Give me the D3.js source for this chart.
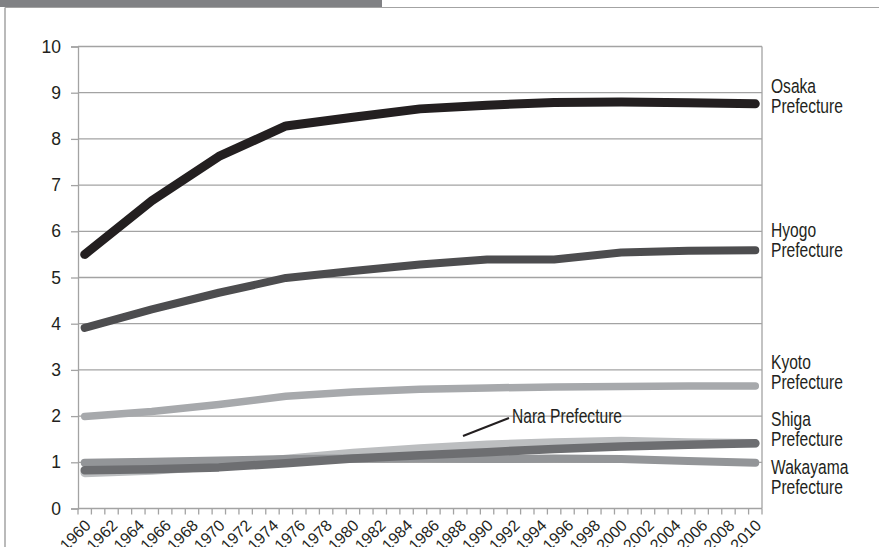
<!DOCTYPE html>
<html>
<head>
<meta charset="utf-8">
<script src="https://cdn.jsdelivr.net/npm/d3@7/dist/d3.min.js"></script>
<style>
  html, body { margin: 0; padding: 0; background: #fff; }
  svg { display: block; }
</style>
</head>
<body>
<svg id="chart" width="879" height="547"></svg>
<script>
// Census years (every 5 years) and population in millions
const censusYears = [1960, 1965, 1970, 1975, 1980, 1985, 1990, 1995, 2000, 2005, 2010];
const osaka    = [5.50, 6.66, 7.62, 8.28, 8.47, 8.65, 8.73, 8.79, 8.80, 8.78, 8.76];
const hyogo    = [3.91, 4.31, 4.67, 4.99, 5.14, 5.28, 5.39, 5.39, 5.54, 5.58, 5.59];
const kyoto    = [1.99, 2.10, 2.25, 2.43, 2.52, 2.58, 2.61, 2.63, 2.64, 2.65, 2.65];
const nara     = [0.77, 0.82, 0.92, 1.07, 1.20, 1.30, 1.38, 1.43, 1.46, 1.43, 1.41];
const wakayama = [0.99, 1.01, 1.04, 1.07, 1.08, 1.09, 1.07, 1.08, 1.07, 1.03, 0.99];
const shiga    = [0.83, 0.85, 0.89, 0.98, 1.08, 1.15, 1.22, 1.29, 1.34, 1.38, 1.41];

// Category axis: one slot per year, labelled every second year
const axisYears = d3.range(1960, 2011);
const xTickLabels = ["1960","1962","1964","1966","1968","1970","1972","1974","1976","1978","1980","1982","1984","1986","1988","1990","1992","1994","1996","1998","2000","2002","2004","2006","2008","2010"];
const yTicks = [0, 1, 2, 3, 4, 5, 6, 7, 8, 9, 10];

const svg = d3.select("#chart");
const axisFont = "'Liberation Sans', Arial, sans-serif";
const ink = "#231f20";
const gridColor = "#a3a3a3";
const narrow = 0.8;   // horizontal squeeze for the condensed label face

// Page frame and header strip
svg.append("rect").attr("x", 0).attr("y", 0).attr("width", 382).attr("height", 7).attr("fill", "#808184");
svg.append("line").attr("x1", 5).attr("x2", 879).attr("y1", 7.5).attr("y2", 7.5)
  .attr("stroke", gridColor).attr("stroke-width", 1.2);
svg.append("line").attr("x1", 5).attr("x2", 5).attr("y1", 7.5).attr("y2", 547)
  .attr("stroke", gridColor).attr("stroke-width", 1.5);

const plotLeft = 78, plotRight = 762, plotTop = 46.5, plotBottom = 508.5;

const x = d3.scaleBand().domain(axisYears).range([plotLeft, plotRight]).padding(0);
const xc = yr => x(yr) + x.bandwidth() / 2;
const y = d3.scaleLinear().domain([0, 10]).range([plotBottom, plotTop]);

// Horizontal gridlines
svg.append("g").selectAll("line").data(yTicks.filter(v => v > 0)).join("line")
  .attr("x1", plotLeft).attr("x2", plotRight)
  .attr("y1", d => y(d)).attr("y2", d => y(d))
  .attr("stroke", gridColor).attr("stroke-width", 1.3);

// Right border of the plot area
svg.append("line").attr("x1", plotRight).attr("x2", plotRight)
  .attr("y1", plotTop).attr("y2", plotBottom)
  .attr("stroke", gridColor).attr("stroke-width", 1.3);

// Y axis
const yAxis = d3.axisLeft(y).tickValues(yTicks).tickSize(7).tickPadding(10).tickFormat(d3.format("d"));
const gy = svg.append("g").attr("transform", `translate(${plotLeft},0)`).call(yAxis);
gy.attr("font-family", null);
gy.select(".domain").attr("stroke", gridColor).attr("stroke-width", 1.3);
gy.selectAll(".tick line").attr("stroke", gridColor).attr("stroke-width", 1.3);
gy.selectAll(".tick text").attr("fill", ink).style("font-family", axisFont).style("font-size", "17.5px");

// X axis: baseline, tick marks at slot boundaries, rotated labels at slot centres
svg.append("line").attr("x1", plotLeft).attr("x2", plotRight)
  .attr("y1", plotBottom).attr("y2", plotBottom)
  .attr("stroke", gridColor).attr("stroke-width", 1.3);
const boundaries = axisYears.map(yr => x(yr)).concat([plotRight]);
svg.append("g").selectAll("line").data(boundaries).join("line")
  .attr("x1", d => d).attr("x2", d => d)
  .attr("y1", plotBottom).attr("y2", plotBottom + 6)
  .attr("stroke", gridColor).attr("stroke-width", 1.3);
svg.append("g").selectAll("text").data(xTickLabels).join("text")
  .attr("transform", d => `translate(${xc(+d) + 3},${plotBottom + 14}) rotate(-45)`)
  .attr("text-anchor", "end")
  .attr("dy", "0.35em")
  .attr("fill", ink)
  .style("font-family", axisFont)
  .style("font-size", "16px")
  .text(d => d);

// Series lines
const series = [
  { name: "Osaka",    values: osaka,    color: "#231f20", width: 9 },
  { name: "Hyogo",    values: hyogo,    color: "#4d4d4f", width: 8 },
  { name: "Kyoto",    values: kyoto,    color: "#a7a9ac", width: 7.5 },
  { name: "Nara",     values: nara,     color: "#bcbec0", width: 8.5 },
  { name: "Wakayama", values: wakayama, color: "#939598", width: 8 },
  { name: "Shiga",    values: shiga,    color: "#6d6e71", width: 8.5 }
];
const line = d3.line().x((d, i) => xc(censusYears[i])).y(d => y(d));
svg.append("g").selectAll("path").data(series).join("path")
  .attr("d", d => line(d.values))
  .attr("fill", "none")
  .attr("stroke", d => d.color)
  .attr("stroke-width", d => d.width)
  .attr("stroke-linecap", "round")
  .attr("stroke-linejoin", "round");

// Series labels at the right, set in a squeezed face
const rightLabels = [
  { lines: ["Osaka", "Prefecture"],    y: 93 },
  { lines: ["Hyogo", "Prefecture"],    y: 237 },
  { lines: ["Kyoto", "Prefecture"],    y: 369 },
  { lines: ["Shiga", "Prefecture"],    y: 426 },
  { lines: ["Wakayama", "Prefecture"], y: 474 }
];
const lbl = svg.append("g").selectAll("text").data(rightLabels).join("text")
  .attr("transform", d => `translate(771,${d.y}) scale(${narrow},1)`)
  .attr("fill", ink)
  .style("font-family", axisFont)
  .style("font-size", "19.5px");
lbl.selectAll("tspan").data(d => d.lines).join("tspan")
  .attr("x", 0).attr("dy", (d, i) => i === 0 ? 0 : 20)
  .text(d => d);

// Callout for Nara
svg.append("line").attr("x1", 463).attr("y1", 436).attr("x2", 509).attr("y2", 418)
  .attr("stroke", ink).attr("stroke-width", 2);
svg.append("text")
  .attr("transform", `translate(512,423) scale(${narrow},1)`)
  .attr("fill", ink)
  .style("font-family", axisFont)
  .style("font-size", "19.5px")
  .text("Nara Prefecture");
</script>
</body>
</html>
